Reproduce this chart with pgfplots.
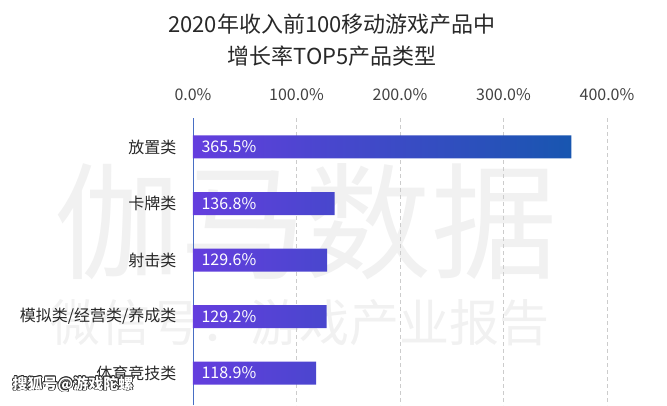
\documentclass[border=0pt]{standalone}
\usepackage{fontspec}
\setmainfont{Noto Sans CJK SC}
\usepackage{pgfplots}
\pgfplotsset{compat=1.18}
\usepackage{pgfplotstable}
\definecolor{barL}{RGB}{100,62,222}
\definecolor{barR}{RGB}{24,86,176}
\definecolor{axblue}{RGB}{72,110,196}
\definecolor{txt}{RGB}{40,40,40}
\definecolor{ticktxt}{RGB}{65,65,65}
\definecolor{wm}{RGB}{241,241,241}

\pgfplotstableread{
idx value
0 365.5
1 136.8
2 129.6
3 129.2
4 118.9
}\datatable

\begin{document}
\begin{tikzpicture}[x=1pt,y=1pt]
\useasboundingbox (0,0) rectangle (667,-405);
% watermark
\node[text=wm, font=\fontsize{126}{126}\selectfont, inner sep=0] at (306,-222) {伽马数据};
\node[text=wm, font=\fontsize{50}{50}\selectfont, inner sep=0] at (300,-323) {微信号：游戏产业报告};
% title
\node[text=txt, font=\fontsize{22}{22}\selectfont, inner sep=0] at (332,-24) {2020年收入前100移动游戏产品中};
\node[text=txt, font=\fontsize{22}{22}\selectfont, inner sep=0] at (332,-56) {增长率TOP5产品类型};
\begin{axis}[
  at={(193pt,-405pt)}, anchor=south west,
  scale only axis, width=414pt, height=287pt,
  xmin=0, xmax=400, ymin=-0.513, ymax=4.566, y dir=reverse,
  axis x line*=top, axis y line*=left,
  x axis line style={draw=none},
  y axis line style={draw=axblue, line width=0.9pt},
  /pgf/number format/assume math mode=true,
  xtick={0,100,200,300,400},
  xticklabel={\pgfmathprintnumber[fixed,fixed zerofill,precision=1]{\tick}\%},
  xticklabel style={anchor=center, yshift=23pt, text=ticktxt, font=\fontsize{16}{16}\selectfont},
  ytick={0,1,2,3,4},
  yticklabels={放置类,卡牌类,射击类,模拟类/经营类/养成类,体育竞技类},
  yticklabel style={text=txt, xshift=-13pt, font=\fontsize{16}{16}\selectfont},
  tick style={draw=none},
  xmajorgrids,
  major grid style={dash pattern=on 4pt off 3pt, gray!40, line width=0.7pt},
  clip=false,
]
\addplot[xbar, bar width=23pt, bar shift=0pt, draw=none, left color=barL, right color=barR]
  table[x=value, y=idx]{\datatable};
\addplot[draw=none, mark=none, point meta=explicit,
  nodes near coords={\pgfmathprintnumber[fixed,fixed zerofill,precision=1]{\pgfplotspointmeta}\%},
  every node near coord/.append style={anchor=west, xshift=5pt, yshift=0pt, text=white, font=\fontsize{16}{16}\selectfont}]
  table[x expr=0, y=idx, meta=value]{\datatable};
\end{axis}
% corner mark
\foreach \dx/\dy in {-0.8/0,0.8/0,0/-0.8,0/0.8,-0.6/-0.6,0.6/0.6,-0.6/0.6,0.6/-0.6}{
  \node[text=black!85, font=\fontsize{15}{15}\selectfont\bfseries, inner sep=0] at (73+\dx,-384+\dy) {搜狐号@游戏陀螺};
}
\node[text=white, font=\fontsize{15}{15}\selectfont\bfseries, inner sep=0] at (73,-384) {搜狐号@游戏陀螺};
\end{tikzpicture}
\end{document}
